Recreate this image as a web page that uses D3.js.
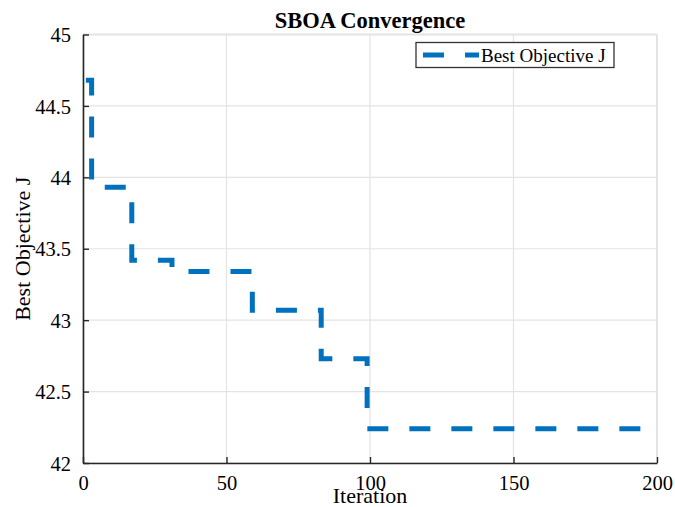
<!DOCTYPE html>
<html>
<head>
<meta charset="utf-8">
<script src="https://cdn.jsdelivr.net/npm/d3@7"></script>
<style>
  html, body { margin: 0; padding: 0; background: #fff; }
  svg { display: block; }
  text { font-family: "Liberation Serif", "Times New Roman", serif; fill: #000; }
</style>
</head>
<body>
<svg id="chart" width="675" height="507"></svg>
<script>
// ---- data ----
const iterations = [1, 3, 17, 31, 59, 83, 99, 200];
const bestJ      = [44.68, 43.93, 43.42, 43.34, 43.07, 42.73, 42.24, 42.24];
const xTicks = [0, 50, 100, 150, 200];
const yTicks = [42, 42.5, 43, 43.5, 44, 44.5, 45];
const title = "SBOA Convergence";
const xLabel = "Iteration";
const yLabel = "Best Objective J";
const seriesName = "Best Objective J";

const svg = d3.select("#chart");
const pL = 83, pR = 657, pT = 34.5, pB = 463;

const x = d3.scaleLinear().domain([0, 200]).range([pL, pR]);
const y = d3.scaleLinear().domain([42, 45]).range([pB, pT]);

// gridlines
const grid = svg.append("g");
grid.selectAll("line.gx").data(xTicks).enter().append("line")
  .attr("x1", d => x(d)).attr("x2", d => x(d))
  .attr("y1", pT).attr("y2", pB)
  .attr("stroke", "#e3e3e3").attr("stroke-width", d => d === 200 ? 2 : 1.2);
grid.selectAll("line.gy").data(yTicks).enter().append("line")
  .attr("y1", d => y(d)).attr("y2", d => y(d))
  .attr("x1", pL).attr("x2", pR)
  .attr("stroke", "#e3e3e3").attr("stroke-width", d => d === 45 ? 2 : 1.2);

// series
const line = d3.line()
  .x((d, i) => x(iterations[i]))
  .y(d => y(d))
  .curve(d3.curveStepAfter);
svg.append("path")
  .attr("d", line(bestJ))
  .attr("fill", "none")
  .attr("stroke", "#0072BD")
  .attr("stroke-width", 5)
  .attr("stroke-dasharray", "21,21");

// axes
const xAxis = d3.axisBottom(x).tickValues(xTicks).tickSizeInner(-6).tickSizeOuter(0).tickPadding(12).tickFormat(d3.format("d"));
const yAxis = d3.axisLeft(y).tickValues(yTicks).tickSizeInner(-6).tickSizeOuter(0).tickPadding(12).tickFormat(d => String(d));

const gx = svg.append("g").attr("transform", `translate(0,${pB})`).call(xAxis);
const gy = svg.append("g").attr("transform", `translate(${pL},0)`).call(yAxis);
[gx, gy].forEach(g => {
  g.select(".domain").attr("stroke", "#262626").attr("stroke-width", 1.6);
  g.selectAll(".tick line").attr("stroke", "#262626").attr("stroke-width", 1.4);
  g.selectAll(".tick text").attr("font-family", "Liberation Serif, serif").attr("font-size", 20.5).attr("fill", "#000");
});
gy.selectAll(".tick text").attr("dy", "0.35em");

// title & labels
svg.append("text").attr("x", (pL + pR) / 2).attr("y", 28)
  .attr("text-anchor", "middle").attr("font-size", 22.5).attr("font-weight", "bold").text(title);
svg.append("text").attr("x", (pL + pR) / 2).attr("y", 503)
  .attr("text-anchor", "middle").attr("font-size", 22).text(xLabel);
svg.append("text").attr("transform", `translate(30,${(pT + pB) / 2}) rotate(-90)`)
  .attr("text-anchor", "middle").attr("font-size", 22).text(yLabel);

// legend
const lg = svg.append("g");
lg.append("rect").attr("x", 416).attr("y", 42.5).attr("width", 198).attr("height", 25)
  .attr("fill", "#fff").attr("stroke", "#333").attr("stroke-width", 1.3);
lg.append("line").attr("x1", 423).attr("x2", 479).attr("y1", 55).attr("y2", 55)
  .attr("stroke", "#0072BD").attr("stroke-width", 5).attr("stroke-dasharray", "21,21");
lg.append("text").attr("x", 481).attr("y", 61.5).attr("font-size", 19).text(seriesName);
</script>
</body>
</html>
